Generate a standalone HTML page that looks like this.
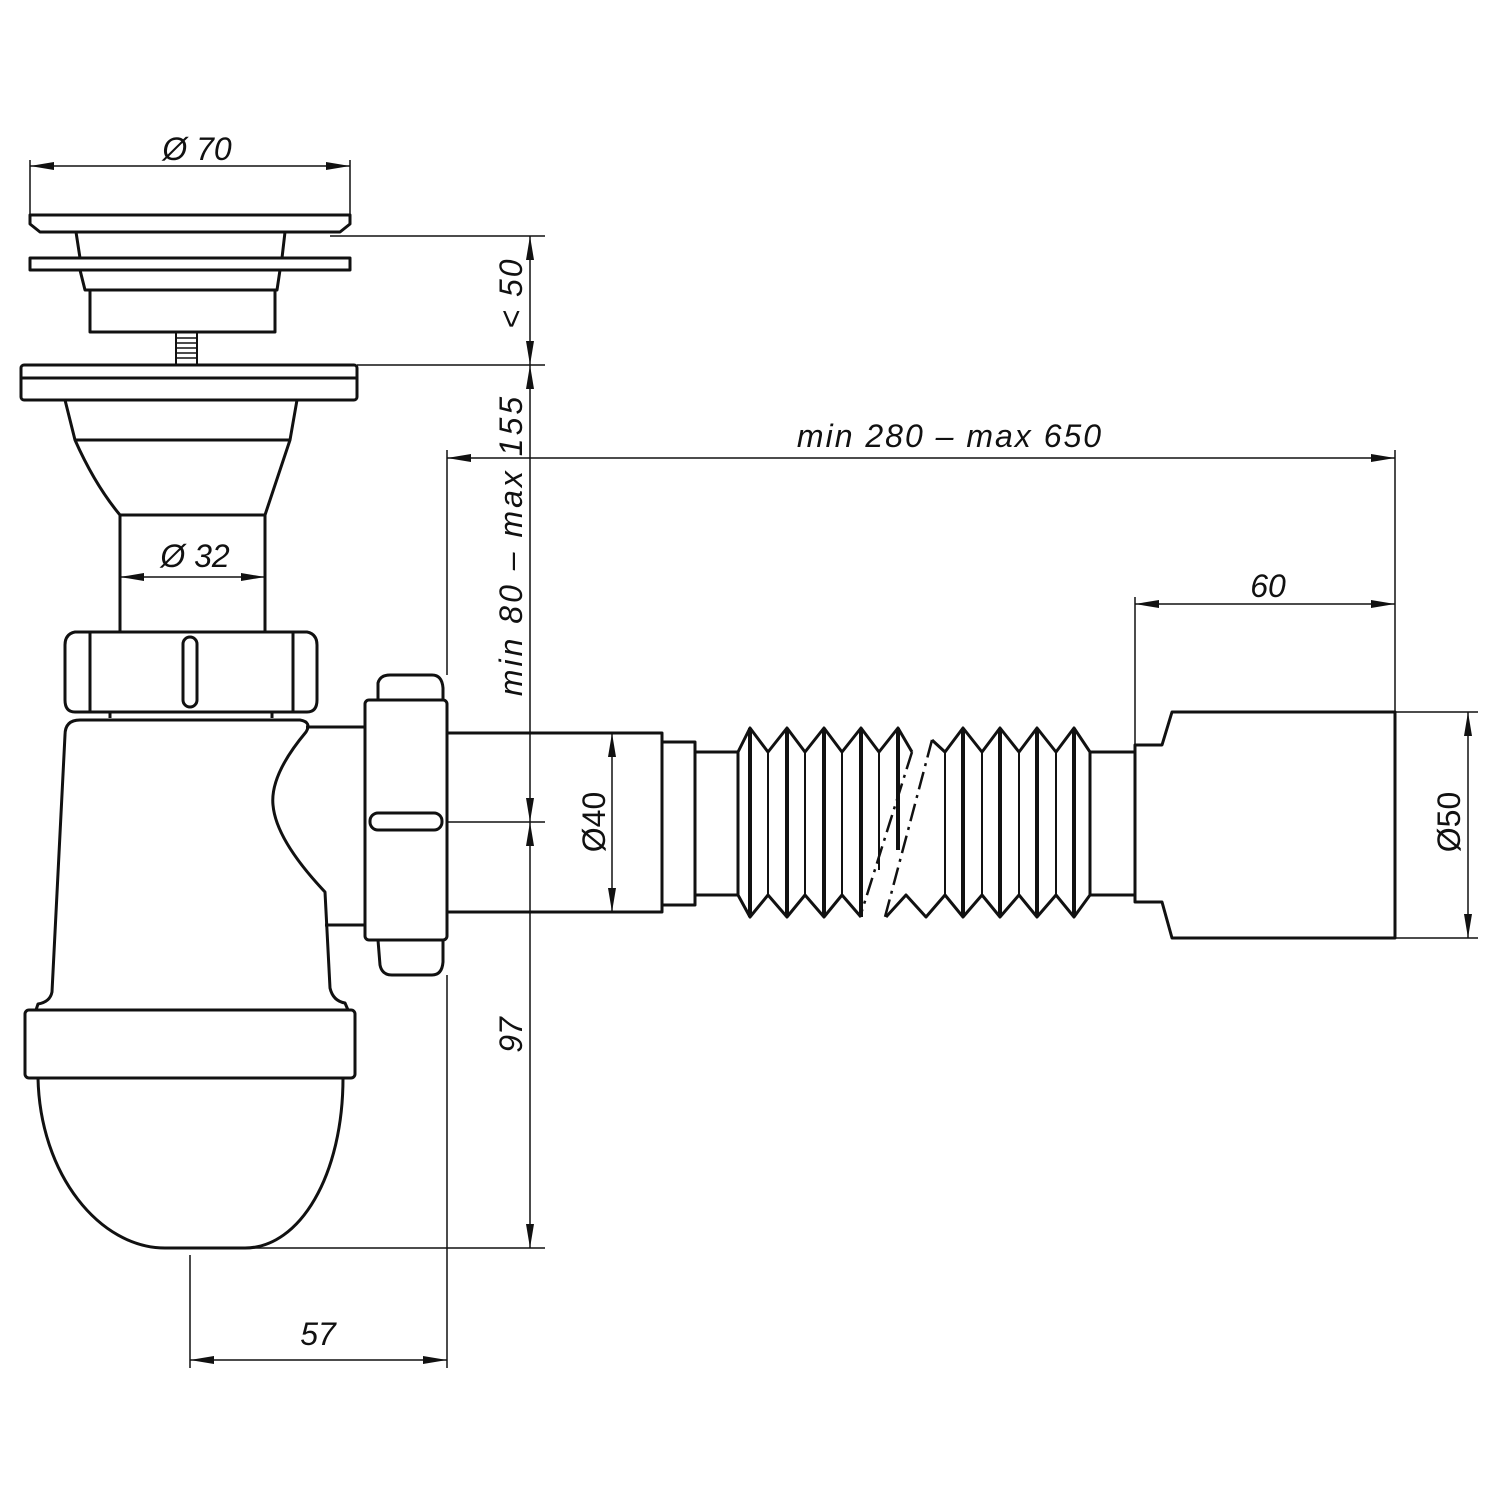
<!DOCTYPE html>
<html><head><meta charset="utf-8"><style>
html,body{margin:0;padding:0;background:#fff;}
svg{display:block;}
text{font-family:"Liberation Sans",sans-serif;font-style:italic;font-size:32px;fill:#111;}
</style></head><body>
<svg width="1500" height="1500" viewBox="0 0 1500 1500" xmlns="http://www.w3.org/2000/svg">
<defs>
<marker id="a" viewBox="0 0 24 8" refX="24" refY="4" markerWidth="24" markerHeight="8" markerUnits="userSpaceOnUse" orient="auto-start-reverse"><path d="M0,0 L24,4 L0,8 Z" fill="#111"/></marker>
</defs>
<g fill="none" stroke="#111" stroke-width="3" stroke-linejoin="round">
<path d="M30,215 L350,215 L350,224 L340,232 L40,232 L30,224 Z"/>
<path d="M76,232 L285,232 L282,258 L80,258 Z"/>
<rect x="30" y="258" width="320" height="12"/>
<path d="M80,270 L280,270 L277,290 L85,290 Z"/>
<rect x="90" y="290" width="185" height="42"/>
<rect x="176" y="332" width="21" height="33" stroke-width="2"/>
<path d="M176,338 H197 M176,343 H197 M176,348 H197 M176,353 H197 M176,358 H197" stroke-width="1.5"/>
<rect x="21" y="365" width="336" height="35" rx="3"/>
<line x1="21" y1="378" x2="357" y2="378"/>
<path d="M65,400 L75,440 Q95,485 120,515 L120,632 M297,400 L290,440 Q275,485 265,515 L265,632"/>
<line x1="75" y1="440" x2="290" y2="440"/>
<line x1="120" y1="515" x2="265" y2="515"/>
<path d="M75,632 L307,632 Q317,634 317,645 L317,700 Q317,712 307,712 L75,712 Q65,712 65,700 L65,645 Q65,634 75,632 Z"/>
<line x1="90" y1="632" x2="90" y2="712"/>
<line x1="293" y1="632" x2="293" y2="712"/>
<rect x="183" y="637" width="14" height="70" rx="7"/>
<path d="M110,712 L110,718 M272,712 L272,718"/>
<path d="M80,720 L300,720 Q312,722 306,732 Q270,775 273,805 Q276,840 325,892 L330,988 Q333,1001 345,1003 L348,1010"/>
<path d="M80,720 Q65,720 65,735 L52,992 Q50,1002 38,1004 L36,1010"/>
<line x1="306" y1="727" x2="365" y2="727"/>
<line x1="325" y1="925" x2="365" y2="925"/>
<rect x="25" y="1010" width="330" height="68" rx="4"/>
<path d="M38,1078 C40,1175 100,1248 165,1248 L245,1248 C300,1248 343,1175 343,1078"/>
<path d="M378,700 L378,683 Q380,675 390,675 L432,675 Q442,675 443,688 L443,700"/>
<rect x="365" y="700" width="82" height="240" rx="4"/>
<path d="M378,940 L380,965 Q382,975 392,975 L432,975 Q442,975 443,962 L443,940"/>
<rect x="370" y="813" width="72" height="17" rx="8"/>
<rect x="447" y="733" width="215" height="179"/>
<rect x="662" y="742" width="33" height="163"/>
<rect x="695" y="752" width="43" height="143"/>
<polyline points="738,752 750,728 768,752 787,728 805,752 824,728 842,752 861,728 879,752 898,728 912,752"/>
<polyline points="932,740 945,752 963,728 982,752 1000,728 1019,752 1037,728 1056,752 1074,728 1090,752"/>
<polyline points="738,895 750,917 768,895 787,917 805,895 824,917 842,895 861,917"/>
<polyline points="886,917 906,895 926,917 945,895 963,917 982,895 1000,917 1019,895 1037,917 1056,895 1074,917 1090,895"/>
<g stroke-width="4"><path d="M750,728V917 M787,728V917 M824,728V917 M861,728V917 M898,728V850 M963,728V917 M1000,728V917 M1037,728V917 M1074,728V917"/></g>
<g stroke-width="2"><path d="M768,752V895 M805,752V895 M842,752V895 M879,752V870 M945,752V895 M982,752V895 M1019,752V895 M1056,752V895 M738,752V895 M1090,752V895"/></g>
<path d="M912,752 L860,917 M932,740 L885,917" stroke-dasharray="18,6,3,6" stroke-width="2.5"/>
<rect x="1090" y="752" width="45" height="143"/>
<path d="M1135,745 L1162,745 L1172,712 L1395,712 L1395,938 L1172,938 L1162,902 L1135,902 Z"/>
</g>
<g fill="none" stroke="#111" stroke-width="1.5">
<line x1="30" y1="160" x2="30" y2="215"/><line x1="350" y1="160" x2="350" y2="215"/>
<line x1="30" y1="166" x2="350" y2="166" marker-start="url(#a)" marker-end="url(#a)"/>
<line x1="330" y1="236" x2="545" y2="236"/>
<line x1="357" y1="365" x2="545" y2="365"/>
<line x1="530" y1="236" x2="530" y2="365" marker-start="url(#a)" marker-end="url(#a)"/>
<line x1="530" y1="365" x2="530" y2="822" marker-start="url(#a)" marker-end="url(#a)"/>
<line x1="530" y1="822" x2="530" y2="1248" marker-start="url(#a)" marker-end="url(#a)"/>
<line x1="447" y1="822" x2="545" y2="822"/>
<line x1="250" y1="1248" x2="545" y2="1248"/>
<line x1="120" y1="577" x2="265" y2="577" marker-start="url(#a)" marker-end="url(#a)"/>
<line x1="447" y1="450" x2="447" y2="675"/>
<line x1="447" y1="975" x2="447" y2="1368"/>
<line x1="447" y1="458" x2="1395" y2="458" marker-start="url(#a)" marker-end="url(#a)"/>
<line x1="1395" y1="450" x2="1395" y2="712"/>
<line x1="1135" y1="597" x2="1135" y2="745"/>
<line x1="1135" y1="604" x2="1395" y2="604" marker-start="url(#a)" marker-end="url(#a)"/>
<line x1="612" y1="733" x2="612" y2="912" marker-start="url(#a)" marker-end="url(#a)"/>
<line x1="1395" y1="712" x2="1478" y2="712"/><line x1="1395" y1="938" x2="1478" y2="938"/>
<line x1="1468" y1="712" x2="1468" y2="938" marker-start="url(#a)" marker-end="url(#a)"/>
<line x1="190" y1="1255" x2="190" y2="1368"/>
<line x1="190" y1="1360" x2="447" y2="1360" marker-start="url(#a)" marker-end="url(#a)"/>
</g>
<text x="197" y="160" text-anchor="middle">Ø 70</text>
<text x="195" y="567" text-anchor="middle">Ø 32</text>
<text x="950" y="447" text-anchor="middle" letter-spacing="2">min 280 – max 650</text>
<text x="1268" y="597" text-anchor="middle">60</text>
<text x="318" y="1345" text-anchor="middle">57</text>
<text transform="translate(522,293) rotate(-90)" text-anchor="middle" letter-spacing="2">&lt; 50</text>
<text transform="translate(522,545) rotate(-90)" text-anchor="middle" letter-spacing="3">min 80 – max 155</text>
<text transform="translate(522,1035) rotate(-90)" text-anchor="middle">97</text>
<text transform="translate(605,822) rotate(-90)" text-anchor="middle" style="font-style:normal">Ø40</text>
<text transform="translate(1460,822) rotate(-90)" text-anchor="middle" style="font-style:normal">Ø50</text>
</svg>
</body></html>
